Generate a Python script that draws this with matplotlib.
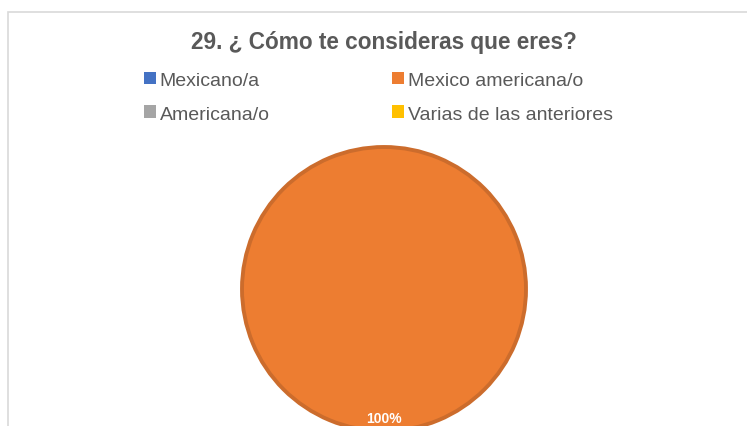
import matplotlib.pyplot as plt
from matplotlib.patches import Rectangle

categories = ["Mexicano/a", "Mexico americana/o", "Americana/o", "Varias de las anteriores"]
values = [0, 100, 0, 0]
colors = ["#4472C4", "#ED7D31", "#A5A5A5", "#FFC000"]
title = "29. ¿ Cómo te consideras que eres?"

plt.rcParams['font.family'] = ['Liberation Sans', 'DejaVu Sans']

fig = plt.figure(figsize=(7.47, 4.27), dpi=100)

# light chart-area frame, running off the right and bottom edges
fig.patches.append(Rectangle((8 / 747, -0.05), 1.2, 1 - 13 / 427 + 0.05,
                             transform=fig.transFigure, fill=False,
                             edgecolor="#D9D9D9", linewidth=1.2))

ax = fig.add_axes([242 / 747, -5 / 427, 284 / 747, 284 / 427])


def pct(p):
    return "%d%%" % round(p) if p > 0 else ""


wedges, texts, autotexts = ax.pie(values, colors=colors, startangle=90, counterclock=False,
                                  autopct=pct, pctdistance=0.91,
                                  wedgeprops=dict(edgecolor="#CC6C2C", linewidth=2.8),
                                  textprops=dict(color="white", fontsize=10, fontweight="bold"))
for w, v in zip(wedges, values):
    if v == 0:
        w.set_linewidth(0)
    w.set_clip_on(False)
ax.set_xlim(-1, 1)
ax.set_ylim(-1, 1)
ax.set_aspect('auto')
ax.axis('off')

fig.text(384 / 747, 1 - 42 / 427, title, ha='center', va='center',
         fontsize=16.3, fontweight='bold', color="#595959")

# legend fills row by row in the original, matplotlib fills by column
order = [0, 2, 1, 3]
leg = fig.legend([wedges[i] for i in order], [categories[i] for i in order],
                 ncol=2, loc='upper left',
                 bbox_to_anchor=(134 / 747, 1 - 63 / 427), frameon=False,
                 fontsize=14, handlelength=0.62, handleheight=0.62,
                 handletextpad=0.2, columnspacing=6.3, labelspacing=0.85,
                 borderpad=0, labelcolor="#595959")
for p in leg.get_patches():
    p.set_linewidth(0)

fig.savefig("out.png", dpi=100)
